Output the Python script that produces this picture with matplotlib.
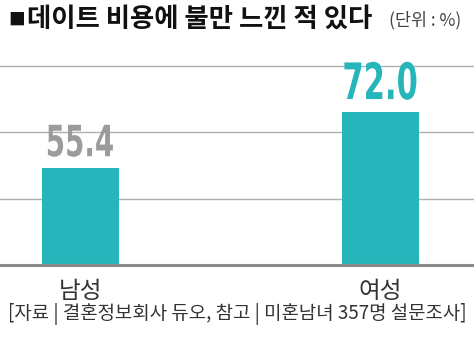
import matplotlib.pyplot as plt
from matplotlib.textpath import TextPath
from matplotlib.patches import PathPatch
from matplotlib.font_manager import FontProperties
from matplotlib.transforms import Affine2D, ScaledTranslation

plt.rcParams['font.family'] = ['Noto Sans CJK KR', 'DejaVu Sans']

# 데이터
성별 = ["남성", "여성"]
비율 = [55.4, 72.0]
제목 = "데이트 비용에 불만 느낀 적 있다"
단위 = "(단위 : %)"
출처 = "[자료 | 결혼정보회사 듀오, 참고 | 미혼남녀 357명 설문조사]"

청록 = "#26b5bb"
회색 = "#9b9b9b"

W, H = 474, 338
fig = plt.figure(figsize=(W / 100, H / 100), dpi=100)
ax = fig.add_axes([0, 0.216, 1, 0.636])

x = [0, 1]
ax.bar(x, 비율, width=0.257, color=청록, zorder=2)

ax.set_xlim(-0.268, 1.312)
ax.set_ylim(26.6, 90.3)

# 눈금선
for g in [46.3, 66.0, 85.7]:
    ax.axhline(g, color="#b0b0b0", lw=1.0, zorder=1)
ax.axhline(26.6, color="#8a8a8a", lw=2.2, zorder=3, clip_on=False)

for s in ax.spines.values():
    s.set_visible(False)
ax.set_xticks([])
ax.set_yticks([])


# 좁은(condensed) 숫자 라벨: 글자 모양을 가로로 눌러서 그림
def 값라벨(xv, yv, s, w_px, h_px, gap_px, color):
    tp = TextPath((0, 0), s, size=10,
                  prop=FontProperties(family="DejaVu Sans", weight="bold"))
    bb = tp.get_extents()
    tr = (Affine2D().translate(-bb.x0 - bb.width / 2, -bb.y0)
          .scale(w_px / bb.width, h_px / bb.height)
          .translate(0, gap_px)
          + ScaledTranslation(xv, yv, ax.transData))
    ax.add_patch(PathPatch(tp, transform=tr, color=color, lw=0,
                           clip_on=False, zorder=4))


값라벨(x[0], 비율[0], f"{비율[0]:.1f}", 65, 32, 11, 회색)
값라벨(x[1], 비율[1], f"{비율[1]:.1f}", 72, 38, 12, 청록)

# 범주 라벨
for xi, lab in zip(x, 성별):
    fig.text((80.5 + 300 * xi) / W, 1 - 292 / H, lab, ha="center",
             va="center", fontsize=17, color="#333333")

fig.text(8 / W, 1 - 20 / H, "■", ha="left", va="center",
         fontsize=12, color="#111111")
fig.text(27 / W, 1 - 19 / H, 제목, ha="left", va="center",
         fontsize=19, fontweight="bold", color="#111111")
fig.text(461 / W, 1 - 20 / H, 단위, ha="right", va="center",
         fontsize=12.5, color="#444444")
fig.text(237 / W, 1 - 314 / H, 출처, ha="center", va="center",
         fontsize=13.6, color="#333333")

fig.savefig("out.png", dpi=100)
